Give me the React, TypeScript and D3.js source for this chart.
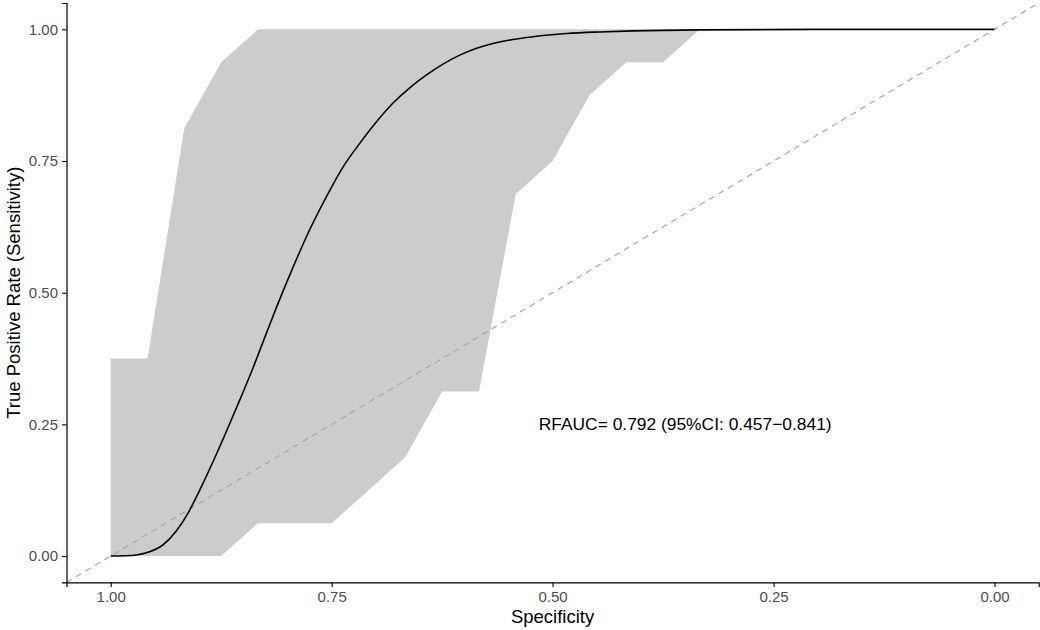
import * as d3 from "d3";
import React, { useEffect, useRef } from "react";

// CI band of sensitivity, on a grid of specificities
const ciSpec = [1, 0.9583, 0.9167, 0.875, 0.8333, 0.7917, 0.75, 0.7083, 0.6667, 0.625, 0.5833, 0.5417, 0.5, 0.4583, 0.4167, 0.375, 0.3333];
const ciUpper = [0.375, 0.375, 0.8125, 0.9375, 1, 1, 1, 1, 1, 1, 1, 1, 1, 1, 1, 1, 1];
const ciLower = [0, 0, 0, 0, 0.0625, 0.0625, 0.0625, 0.125, 0.1875, 0.3125, 0.3125, 0.6875, 0.75, 0.875, 0.9375, 0.9375, 1];

// smoothed ROC curve
const rocSpec = [1.0, 0.985, 0.971, 0.956, 0.941, 0.926, 0.912, 0.899, 0.884, 0.869, 0.854, 0.839, 0.825, 0.812, 0.793, 0.775, 0.756, 0.737, 0.718, 0.699, 0.68, 0.661, 0.643, 0.624, 0.605, 0.586, 0.56, 0.522, 0.484, 0.447, 0.409, 0.333, 0.2, 0.0];
const rocSens = [0.0, 0.0005, 0.002, 0.008, 0.021, 0.047, 0.083, 0.126, 0.18, 0.237, 0.296, 0.357, 0.418, 0.474, 0.551, 0.619, 0.682, 0.739, 0.784, 0.825, 0.861, 0.89, 0.913, 0.934, 0.951, 0.964, 0.976, 0.986, 0.992, 0.995, 0.997, 0.999, 1.0, 1.0];

// chance line
const refSpec = [1.05, -0.05];
const refSens = [-0.05, 1.05];

const xTicks = [1, 0.75, 0.5, 0.25, 0];
const yTicks = [0, 0.25, 0.5, 0.75, 1];

const aucLabel = "RFAUC= 0.792 (95%CI: 0.457\u22120.841)";
const aucPos = { spec: 0.35, sens: 0.25 };

const W = 1040;
const H = 630;
const FONT = "'Liberation Sans', Arial, Helvetica, sans-serif";

const App: React.FC = () => {
  const svgRef = useRef<SVGSVGElement>(null);

  useEffect(() => {
    const svg = d3.select(svgRef.current);
    svg.selectAll("*").remove();

    const margin = { top: 3, right: 1.3, bottom: 47.6, left: 66.5 };
    const x = d3.scaleLinear().domain([1.05, -0.05]).range([margin.left, W - margin.right]);
    const y = d3.scaleLinear().domain([-0.05, 1.05]).range([H - margin.bottom, margin.top]);

    // ribbon
    const band = ciSpec.map((s, i) => ({ s, lo: ciLower[i], hi: ciUpper[i] }));
    const area = d3.area<{ s: number; lo: number; hi: number }>()
      .x((d) => x(d.s))
      .y0((d) => y(d.lo))
      .y1((d) => y(d.hi));
    svg.append("path").datum(band).attr("d", area).attr("fill", "#cccccc");

    // chance line
    const ref = refSpec.map((s, i) => [s, refSens[i]] as [number, number]);
    svg.append("path")
      .datum(ref)
      .attr("d", d3.line().x((d) => x(d[0])).y((d) => y(d[1])))
      .attr("fill", "none")
      .attr("stroke", "#a8a8a8")
      .attr("stroke-width", 1.2)
      .attr("stroke-dasharray", "6,5");

    // ROC curve
    const roc = rocSpec.map((s, i) => [s, rocSens[i]] as [number, number]);
    svg.append("path")
      .datum(roc)
      .attr("d", d3.line().x((d) => x(d[0])).y((d) => y(d[1])).curve(d3.curveMonotoneX))
      .attr("fill", "none")
      .attr("stroke", "#000")
      .attr("stroke-width", 1.6);

    // axes
    const xAxis = svg.append("g")
      .attr("transform", `translate(0,${H - margin.bottom})`)
      .call(d3.axisBottom(x).tickValues(xTicks).tickFormat(d3.format(".2f")).tickSizeOuter(0).tickSize(4.5).tickPadding(4));
    const yAxis = svg.append("g")
      .attr("transform", `translate(${margin.left},0)`)
      .call(d3.axisLeft(y).tickValues(yTicks).tickFormat(d3.format(".2f")).tickSizeOuter(0).tickSize(4.5).tickPadding(4));

    [xAxis, yAxis].forEach((g) => {
      g.select(".domain").attr("stroke", "#000").attr("stroke-width", 1.2);
      g.selectAll(".tick line").attr("stroke", "#000").attr("stroke-width", 1.1);
      g.selectAll(".tick text").attr("fill", "#4d4d4d").style("font-family", FONT).style("font-size", "15px");
    });

    // titles
    svg.append("text")
      .attr("x", (margin.left + W - margin.right) / 2)
      .attr("y", 622.5)
      .attr("text-anchor", "middle")
      .style("font-family", FONT)
      .style("font-size", "18.5px")
      .text("Specificity");

    svg.append("text")
      .attr("transform", `translate(20,${(margin.top + H - margin.bottom) / 2}) rotate(-90)`)
      .attr("text-anchor", "middle")
      .style("font-family", FONT)
      .style("font-size", "18.5px")
      .text("True Positive Rate (Sensitivity)");

    // AUC annotation
    svg.append("text")
      .attr("x", x(aucPos.spec))
      .attr("y", y(aucPos.sens))
      .attr("dy", "0.35em")
      .attr("text-anchor", "middle")
      .style("font-family", FONT)
      .style("font-size", "17.4px")
      .text(aucLabel);
  }, []);

  return (
    <svg
      ref={svgRef}
      width={W}
      height={H}
      style={{ position: "absolute", left: 0, top: 0, background: "#fff" }}
    />
  );
};

export default App;
